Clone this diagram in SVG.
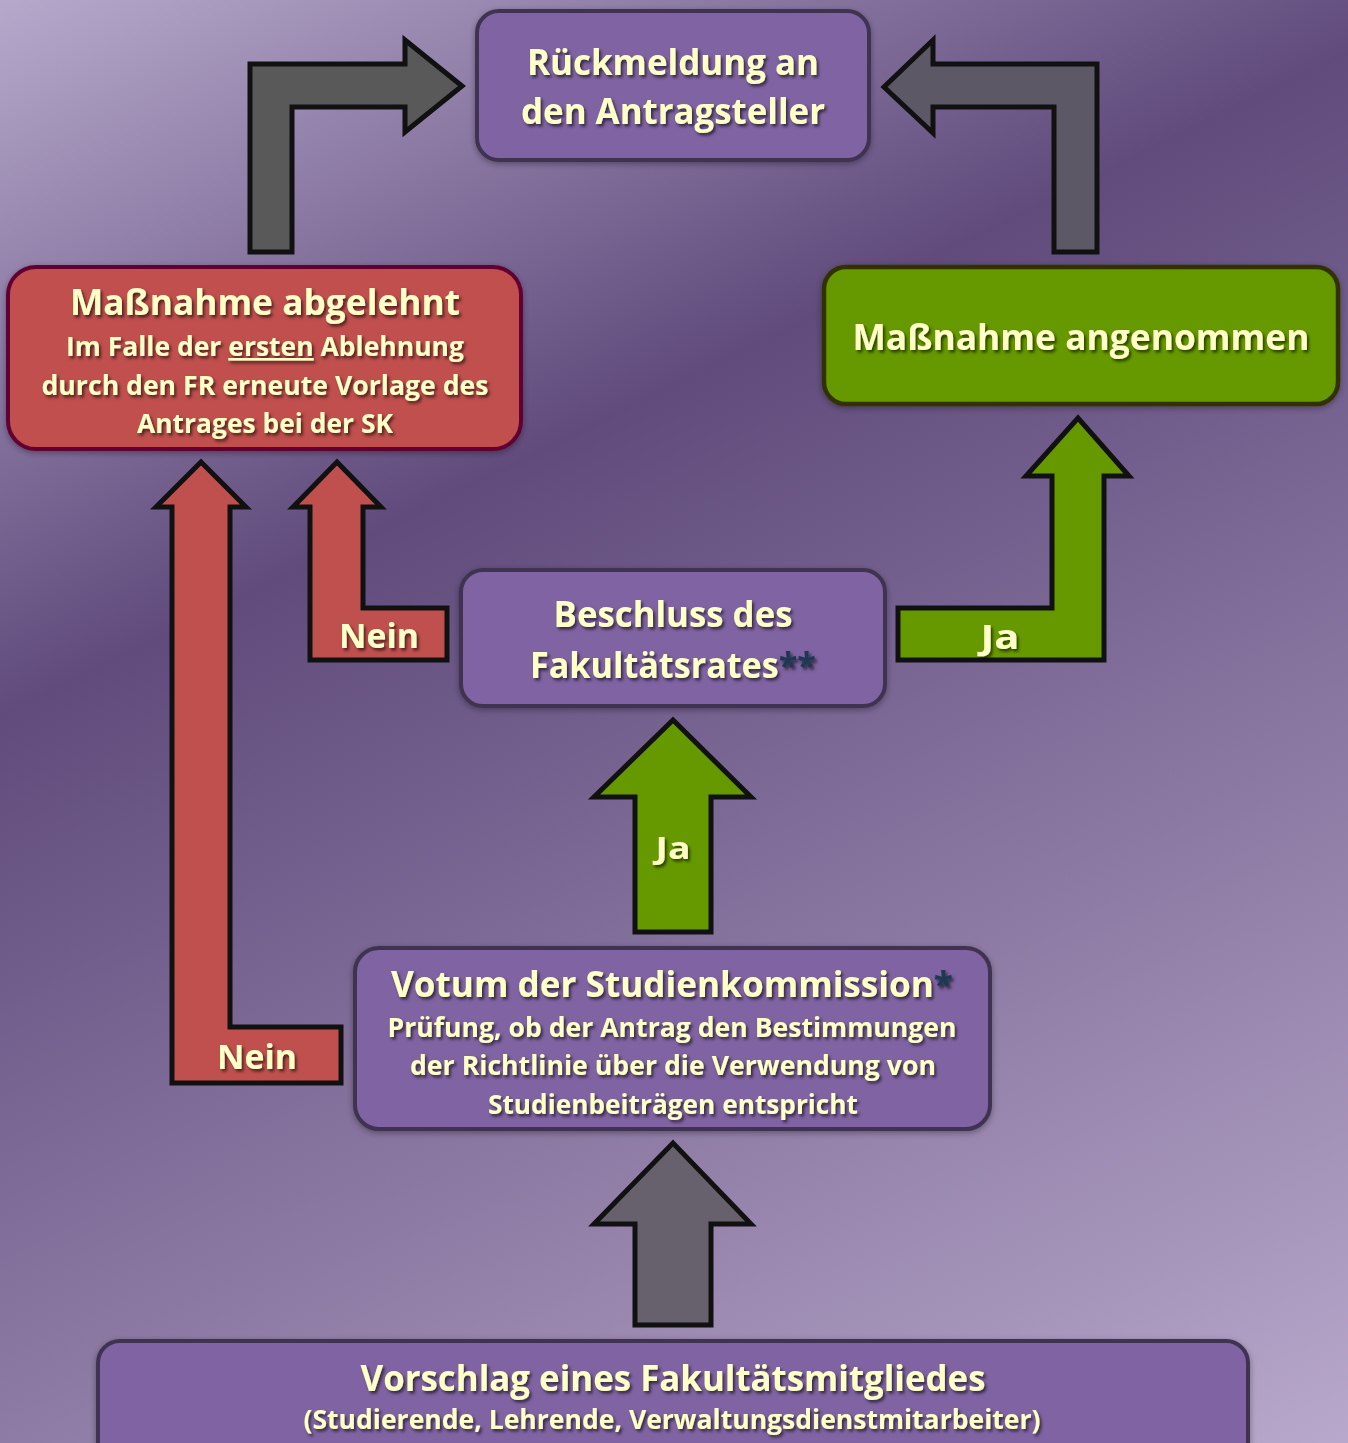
<svg xmlns="http://www.w3.org/2000/svg" width="1348" height="1443" viewBox="0 0 1348 1443">
  <defs>
    <linearGradient id="bg" gradientUnits="userSpaceOnUse" x1="0" y1="0" x2="835" y2="1696">
      <stop offset="0" stop-color="#b6a8cb"/>
      <stop offset="0.34" stop-color="#604b7c"/>
      <stop offset="1" stop-color="#b8a8cb"/>
    </linearGradient>
    <filter id="ts" x="-10%" y="-30%" width="120%" height="160%">
      <feDropShadow dx="2" dy="2.5" stdDeviation="1.6" flood-color="#000" flood-opacity="0.6"/>
    </filter>
    <filter id="bs" x="-5%" y="-10%" width="110%" height="120%">
      <feDropShadow dx="0" dy="2" stdDeviation="3" flood-color="#000" flood-opacity="0.35"/>
    </filter>
  </defs>
  <style>
    .t { font-family: "Open Sans", "Noto Sans", "Liberation Sans", sans-serif; font-weight: 700; fill: #ffffc8; text-anchor: middle; }
    .big { font-size: 35px; }
    .sub { font-size: 26px; }
    .lbl { font-size: 34px; }
    .purple { fill: #8064a2; stroke: #3f3151; stroke-width: 4; }
    .red { fill: #c0504d; stroke: #640032; stroke-width: 4; }
    .green { fill: #669900; stroke: #333300; stroke-width: 4.5; }
    .arr { stroke: #111; stroke-width: 5; stroke-linejoin: miter; }
    .ar { fill: #c0504d; }
    .ag { fill: #669900; }
    .ast { fill: #1f3852; }
  </style>

  <rect x="0" y="0" width="1348" height="1443" fill="url(#bg)"/>

  <g id="connectors">
    <path class="arr" fill="#595959" d="M250,252 L250,64 L405,64 L405,40 L462,86 L405,132 L405,107 L292,107 L292,252 Z"/>
    <path class="arr" fill="#5d5866" d="M1097,252 L1097,64 L933,64 L933,40 L884,87 L933,133 L933,107 L1054,107 L1054,252 Z"/>
    <path class="arr ar" d="M172,1083 L172,507 L156,507 L201,462 L246,507 L230,507 L230,1027 L341,1027 L341,1083 Z"/>
    <path class="arr ar" d="M310,660 L310,507 L293,507 L337,462 L381,507 L363,507 L363,608 L447,608 L447,660 Z"/>
    <path class="arr ag" d="M898,660 L898,608 L1052,608 L1052,476 L1026,476 L1078,418 L1129,476 L1104,476 L1104,660 Z"/>
    <path class="arr ag" d="M635,932 L635,797 L594,797 L673,720 L751,797 L711,797 L711,932 Z"/>
    <path class="arr" fill="#66616c" d="M635,1325 L635,1224 L594,1224 L673,1143 L751,1224 L711,1224 L711,1325 Z"/>
    <g filter="url(#ts)">
      <text class="t lbl" x="257" y="1069" textLength="80" lengthAdjust="spacingAndGlyphs">Nein</text>
      <text class="t lbl" x="379" y="648" textLength="80" lengthAdjust="spacingAndGlyphs">Nein</text>
      <text class="t lbl" x="1000" y="649" textLength="39" lengthAdjust="spacingAndGlyphs">Ja</text>
      <text class="t" x="673" y="859" font-size="31" textLength="35" lengthAdjust="spacingAndGlyphs">Ja</text>
    </g>
  </g>

  <g id="node-rueckmeldung">
    <rect class="purple" x="477" y="11" width="392" height="149" rx="22" filter="url(#bs)"/>
    <g filter="url(#ts)">
      <text class="t big" x="673" y="75" textLength="292" lengthAdjust="spacingAndGlyphs">Rückmeldung an</text>
      <text class="t big" x="673" y="124" textLength="304" lengthAdjust="spacingAndGlyphs">den Antragsteller</text>
    </g>
  </g>

  <g id="node-abgelehnt">
    <rect class="red" x="8" y="267" width="513" height="182" rx="28" filter="url(#bs)"/>
    <g filter="url(#ts)">
      <text class="t big" x="265" y="315" textLength="390" lengthAdjust="spacingAndGlyphs">Maßnahme abgelehnt</text>
      <text class="t sub" x="265" y="356" textLength="398" lengthAdjust="spacingAndGlyphs">Im Falle der <tspan text-decoration="underline">ersten</tspan> Ablehnung</text>
      <text class="t sub" x="265" y="395" textLength="447" lengthAdjust="spacingAndGlyphs">durch den FR erneute Vorlage des</text>
      <text class="t sub" x="265" y="433" textLength="256" lengthAdjust="spacingAndGlyphs">Antrages bei der SK</text>
    </g>
  </g>

  <g id="node-angenommen">
    <rect class="green" x="824" y="267" width="514" height="137" rx="22" filter="url(#bs)"/>
    <g filter="url(#ts)">
      <text class="t big" x="1081" y="350" textLength="457" lengthAdjust="spacingAndGlyphs">Maßnahme angenommen</text>
    </g>
  </g>

  <g id="node-beschluss">
    <rect class="purple" x="461" y="570" width="424" height="136" rx="22" filter="url(#bs)"/>
    <g filter="url(#ts)">
      <text class="t big" x="673" y="627" textLength="239" lengthAdjust="spacingAndGlyphs">Beschluss des</text>
      <text class="t big" x="673" y="678" textLength="286" lengthAdjust="spacingAndGlyphs">Fakultätsrates<tspan class="ast">**</tspan></text>
    </g>
  </g>

  <g id="node-votum">
    <rect class="purple" x="355" y="948" width="635" height="181" rx="24" filter="url(#bs)"/>
    <g filter="url(#ts)">
      <text class="t big" x="672" y="997" textLength="562" lengthAdjust="spacingAndGlyphs">Votum der Studienkommission<tspan class="ast">*</tspan></text>
      <text class="t sub" x="672" y="1037" textLength="569" lengthAdjust="spacingAndGlyphs">Prüfung, ob der Antrag den Bestimmungen</text>
      <text class="t sub" x="673" y="1075" textLength="526" lengthAdjust="spacingAndGlyphs">der Richtlinie über die Verwendung von</text>
      <text class="t sub" x="673" y="1114" textLength="370" lengthAdjust="spacingAndGlyphs">Studienbeiträgen entspricht</text>
    </g>
  </g>

  <g id="node-vorschlag">
    <rect class="purple" x="98" y="1341" width="1150" height="130" rx="22" filter="url(#bs)"/>
    <g filter="url(#ts)">
      <text class="t big" x="673" y="1391" textLength="625" lengthAdjust="spacingAndGlyphs">Vorschlag eines Fakultätsmitgliedes</text>
      <text class="t sub" x="672" y="1429" textLength="737" lengthAdjust="spacingAndGlyphs">(Studierende, Lehrende, Verwaltungsdienstmitarbeiter)</text>
    </g>
  </g>
</svg>
